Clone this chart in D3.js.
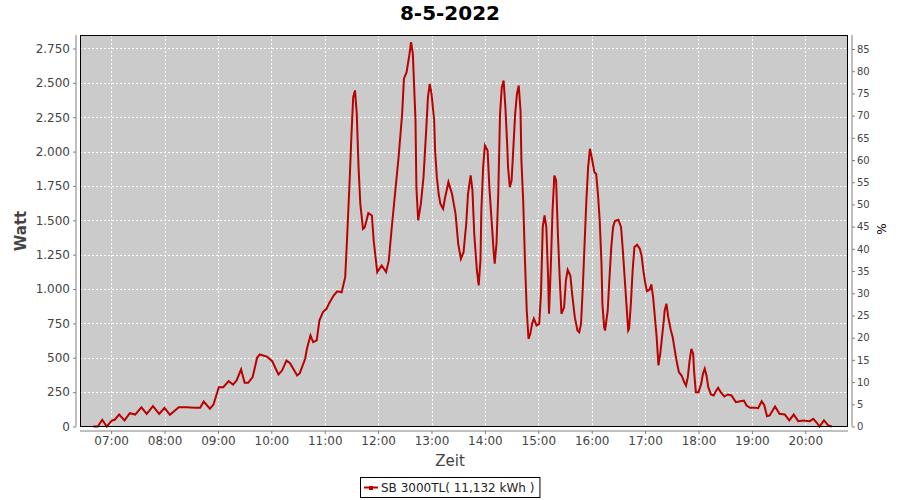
<!DOCTYPE html>
<html>
<head>
<meta charset="utf-8">
<script src="https://cdn.jsdelivr.net/npm/d3@7"></script>
<style>
  body { margin: 0; background: #ffffff; }
  svg { display: block; font-family: "DejaVu Sans", sans-serif; }
</style>
</head>
<body>
<svg id="chart" width="900" height="500"></svg>
<script>
const chartTitle = "8-5-2022";
const seriesName = "SB 3000TL( 11,132 kWh )";
const xTitle = "Zeit";
const yTitle = "Watt";
const y2Title = "%";

const times = ["06:40","06:45","06:50","06:55","07:01","07:04","07:09","07:15","07:21","07:27","07:34","07:40","07:47","07:54","08:00","08:06","08:16","08:25","08:34","08:40","08:44","08:51","08:55","09:01","09:06","09:12","09:17","09:21","09:26","09:30","09:34","09:39","09:44","09:47","09:55","10:01","10:08","10:12","10:17","10:21","10:29","10:32","10:38","10:40","10:44","10:47","10:51","10:54","10:58","11:02","11:05","11:10","11:14","11:19","11:23","11:25","11:28","11:30","11:32","11:34","11:36","11:38","11:40","11:43","11:45","11:49","11:53","11:55","11:59","12:04","12:09","12:12","12:15","12:19","12:23","12:27","12:29","12:32","12:35","12:37","12:39","12:42","12:43","12:45","12:48","12:51","12:54","12:56","12:58","13:00","13:03","13:04","13:06","13:08","13:10","13:13","13:15","13:19","13:23","13:27","13:30","13:33","13:36","13:39","13:41","13:44","13:46","13:48","13:51","13:53","13:55","13:56","13:58","14:00","14:03","14:05","14:08","14:10","14:11","14:13","14:15","14:17","14:19","14:21","14:23","14:25","14:26","14:28","14:30","14:32","14:34","14:36","14:38","14:40","14:41","14:43","14:45","14:47","14:49","14:51","14:53","14:55","14:58","15:01","15:03","15:05","15:07","15:09","15:11","15:12","15:14","15:16","15:18","15:20","15:22","15:24","15:26","15:29","15:31","15:33","15:36","15:38","15:41","15:44","15:46","15:48","15:50","15:52","15:54","15:56","15:58","16:00","16:03","16:05","16:07","16:09","16:11","16:12","16:14","16:15","16:18","16:20","16:22","16:24","16:26","16:30","16:33","16:35","16:37","16:39","16:41","16:42","16:44","16:46","16:48","16:51","16:54","16:56","16:58","17:00","17:02","17:05","17:07","17:09","17:11","17:13","17:15","17:17","17:19","17:21","17:22","17:24","17:26","17:29","17:31","17:34","17:36","17:38","17:41","17:44","17:46","17:48","17:50","17:52","17:54","17:55","17:57","18:00","18:03","18:05","18:07","18:09","18:11","18:14","18:17","18:20","18:22","18:25","18:29","18:33","18:37","18:42","18:47","18:51","18:54","18:58","19:04","19:07","19:11","19:14","19:17","19:20","19:26","19:31","19:37","19:42","19:47","19:52","19:58","20:05","20:09","20:13","20:16","20:21","20:26","20:30"];

const watts = [0,0,49,0,44,49,87,44,97,87,140,92,148,92,136,85,140,140,136,136,182,129,160,286,286,330,305,335,415,318,318,359,500,524,509,475,378,407,480,460,371,388,493,565,662,613,626,771,832,856,897,953,984,977,1086,1353,1790,2117,2396,2445,2275,1887,1620,1438,1450,1552,1535,1353,1123,1171,1123,1208,1426,1693,1959,2275,2530,2578,2699,2796,2712,2226,1741,1499,1620,1814,2154,2396,2493,2420,2226,2008,1814,1693,1620,1584,1657,1778,1693,1547,1329,1220,1268,1475,1693,1826,1717,1402,1135,1026,1208,1571,1887,2044,2008,1741,1450,1256,1184,1329,1693,2275,2469,2517,2323,2057,1887,1741,1790,2032,2275,2420,2481,2299,1935,1644,1208,844,638,674,747,784,735,747,965,1450,1535,1450,1086,820,1159,1571,1826,1790,1402,1086,820,868,1062,1140,1099,965,795,698,686,747,1013,1329,1644,1887,2020,1959,1850,1838,1693,1499,1184,893,722,698,844,1086,1305,1450,1494,1504,1450,1280,1086,893,698,711,893,1135,1305,1322,1293,1244,1135,1050,984,995,1033,941,795,650,444,529,650,771,844,893,795,698,650,529,456,395,371,322,298,359,480,565,529,407,250,250,310,383,420,371,286,233,226,262,281,250,218,233,226,177,184,189,153,136,136,133,184,153,75,80,146,92,87,44,87,39,44,39,56,27,0,44,7,0];

const xTickLabels = ["07:00","08:00","09:00","10:00","11:00","12:00","13:00","14:00","15:00","16:00","17:00","18:00","19:00","20:00"];
const yTicks = [0,250,500,750,1000,1250,1500,1750,2000,2250,2500,2750];
const y2Ticks = [0,5,10,15,20,25,30,35,40,45,50,55,60,65,70,75,80,85];
const xDomain = ["06:25","20:48"];
const yMax = 2848;
const y2Max = 88.15;

const parse = d3.timeParse("%H:%M");
const data = times.map((t, i) => ({ t: parse(t), v: watts[i] }));

const L = 80, R = 848, T = 35, B = 426.5;
const svg = d3.select("#chart");

const x = d3.scaleTime().domain(xDomain.map(parse)).range([L, R]);
const y = d3.scaleLinear().domain([0, yMax]).range([B, T]);
const y2 = d3.scaleLinear().domain([0, y2Max]).range([B, T]);

// title
svg.append("text").attr("x", 450).attr("y", 20).attr("text-anchor", "middle")
  .attr("font-size", 20).attr("font-weight", "bold").attr("fill", "#000").text(chartTitle);

// plot background
svg.append("rect").attr("x", L).attr("y", T).attr("width", R - L).attr("height", B - T)
  .attr("fill", "#cbcbcb");

// gridlines
const grid = svg.append("g").attr("stroke", "#ffffff").attr("stroke-width", 1)
  .attr("stroke-dasharray", "2,2").attr("shape-rendering", "crispEdges");
xTickLabels.forEach(s => {
  const px = Math.round(x(parse(s))) + 0.5;
  grid.append("line").attr("x1", px).attr("x2", px).attr("y1", T).attr("y2", B);
});
yTicks.forEach(v => {
  if (v === 0) return;
  const py = Math.round(y(v)) + 0.5;
  grid.append("line").attr("x1", L).attr("x2", R).attr("y1", py).attr("y2", py);
});

// line
svg.append("path").datum(data)
  .attr("fill", "none").attr("stroke", "#bb0000").attr("stroke-width", 2)
  .attr("stroke-linejoin", "miter")
  .attr("d", d3.line().x(d => x(d.t)).y(d => y(d.v)));

// plot outline
svg.append("rect").attr("x", L + 0.5).attr("y", T + 0.5).attr("width", R - L - 1).attr("height", B - T - 0.5)
  .attr("fill", "none").attr("stroke", "#000").attr("stroke-width", 1);

const fmtDot = v => d3.format(",")(v).replace(/,/g, ".");

// left axis
const gl = svg.append("g").attr("transform", "translate(76,0)")
  .call(d3.axisLeft(y).tickValues(yTicks).tickFormat(fmtDot).tickSize(3).tickPadding(3));
// bottom axis
const gb = svg.append("g").attr("transform", "translate(0,431)")
  .call(d3.axisBottom(x).tickValues(xTickLabels.map(parse)).tickFormat(d3.timeFormat("%H:%M")).tickSize(3).tickPadding(2));
// right axis
const gr = svg.append("g").attr("transform", "translate(852,0)")
  .call(d3.axisRight(y2).tickValues(y2Ticks).tickFormat(d3.format("d")).tickSize(3).tickPadding(2));

[gl, gb, gr].forEach(g => {
  g.select(".domain").attr("stroke", "#808080");
  g.selectAll(".tick line").attr("stroke", "#808080");
  g.selectAll(".tick text").attr("fill", "#444").attr("font-family", "DejaVu Sans, sans-serif");
});
gl.selectAll(".tick text").attr("font-size", 12);
gb.selectAll(".tick text").attr("font-size", 12);
gr.selectAll(".tick text").attr("font-size", 10);
// extend axis domain lines
gl.select(".domain").attr("d", `M0,${T}V${B}`);
gr.select(".domain").attr("d", `M0,${T}V${B}`);
gb.select(".domain").attr("d", `M${L},0H${R}`);

// axis titles
svg.append("text").attr("x", 450).attr("y", 466).attr("text-anchor", "middle")
  .attr("font-size", 15).attr("fill", "#444").text(xTitle);
svg.append("text").attr("transform", "translate(26,231) rotate(-90)").attr("text-anchor", "middle")
  .attr("font-size", 15).attr("font-weight", "bold").attr("fill", "#444").text(yTitle);
svg.append("text").attr("transform", "translate(886,229) rotate(-90)").attr("text-anchor", "middle")
  .attr("font-size", 12).attr("fill", "#000").text(y2Title);

// legend
const lg = svg.append("g");
const lt = lg.append("text").attr("y", 492).attr("font-size", 12).attr("fill", "#222").text(seriesName);
const tw = lt.node().getComputedTextLength();
const bw = tw + 26, bx = Math.round(450 - bw / 2);
lg.insert("rect", "text").attr("x", bx + 0.5).attr("y", 477.5).attr("width", bw).attr("height", 20)
  .attr("fill", "#fff").attr("stroke", "#000");
lt.attr("x", bx + 21);
lg.append("line").attr("x1", bx + 4).attr("x2", bx + 18).attr("y1", 487.5).attr("y2", 487.5)
  .attr("stroke", "#bb0000").attr("stroke-width", 2);
lg.append("rect").attr("x", bx + 9).attr("y", 486).attr("width", 4).attr("height", 4).attr("fill", "#bb0000");
</script>
</body>
</html>
